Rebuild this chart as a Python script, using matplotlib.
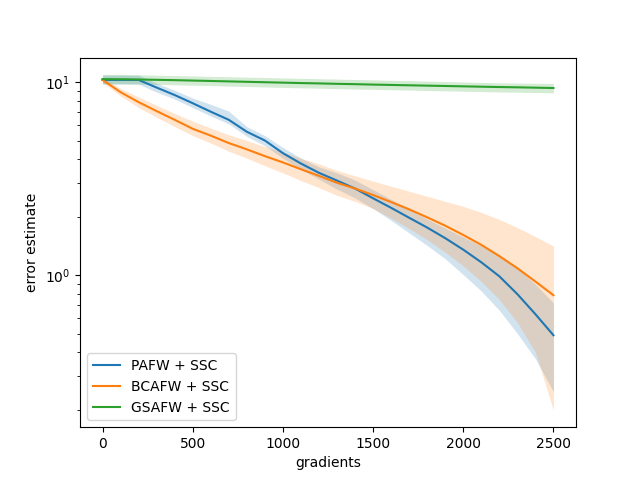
import matplotlib
matplotlib.use("Agg")
import matplotlib.pyplot as plt

gradients = [0, 100, 200, 300, 400, 500, 600, 700, 800, 900, 1000, 1100, 1200,
             1300, 1400, 1500, 1600, 1700, 1800, 1900, 2000, 2100, 2200, 2300, 2400, 2500]

# PAFW + SSC
pafw = [10.3, 10.3, 10.3, 9.4, 8.6, 7.8, 7.05, 6.4, 5.55, 5.0, 4.3, 3.8, 3.4,
        3.1, 2.82, 2.51, 2.24, 1.99, 1.77, 1.56, 1.36, 1.17, 0.99, 0.80, 0.63, 0.49]
pafw_hi = [10.9, 10.9, 10.9, 9.9, 9.1, 8.3, 7.7, 7.1, 5.9, 5.3, 4.6, 4.05, 3.65,
           3.4, 3.12, 2.78, 2.48, 2.2, 1.96, 1.76, 1.58, 1.42, 1.26, 1.09, 0.9, 0.72]
pafw_lo = [9.8, 9.8, 9.8, 8.9, 8.2, 7.4, 6.7, 6.1, 5.25, 4.7, 4.05, 3.55, 3.15,
           2.8, 2.52, 2.22, 1.93, 1.66, 1.43, 1.22, 1.01, 0.83, 0.66, 0.5, 0.37, 0.25]

# BCAFW + SSC
bcafw = [10.3, 8.9, 7.9, 7.1, 6.4, 5.75, 5.3, 4.85, 4.5, 4.15, 3.85, 3.55, 3.28,
         3.02, 2.82, 2.61, 2.40, 2.20, 2.00, 1.81, 1.62, 1.44, 1.26, 1.09, 0.93, 0.79]
bcafw_hi = [10.6, 9.3, 8.4, 7.6, 6.9, 6.3, 5.8, 5.35, 5.0, 4.65, 4.35, 4.05, 3.78,
            3.5, 3.28, 3.08, 2.9, 2.73, 2.57, 2.42, 2.28, 2.12, 1.95, 1.77, 1.59, 1.42]
bcafw_lo = [10.0, 8.5, 7.4, 6.6, 5.9, 5.3, 4.85, 4.4, 4.05, 3.7, 3.4, 3.1, 2.85,
            2.6, 2.42, 2.22, 1.98, 1.75, 1.53, 1.32, 1.12, 0.93, 0.75, 0.57, 0.4, 0.2]

# GSAFW + SSC
gsafw = [10.40, 10.38, 10.35, 10.31, 10.27, 10.22, 10.17, 10.12, 10.07, 10.02, 9.97, 9.92, 9.88,
         9.83, 9.79, 9.74, 9.70, 9.66, 9.62, 9.58, 9.54, 9.50, 9.46, 9.43, 9.39, 9.35]
gsafw_hi = [11.0, 11.0, 10.95, 10.9, 10.85, 10.8, 10.75, 10.7, 10.65, 10.6, 10.55, 10.5, 10.45,
            10.4, 10.35, 10.3, 10.25, 10.2, 10.15, 10.1, 10.05, 10.0, 9.95, 9.92, 9.9, 9.88]
gsafw_lo = [9.85, 9.83, 9.8, 9.76, 9.72, 9.67, 9.62, 9.57, 9.52, 9.47, 9.42, 9.37, 9.33,
            9.28, 9.24, 9.2, 9.16, 9.12, 9.08, 9.04, 9.0, 8.96, 8.92, 8.89, 8.86, 8.83]

series = [
    ("PAFW + SSC", pafw, pafw_lo, pafw_hi, "tab:blue"),
    ("BCAFW + SSC", bcafw, bcafw_lo, bcafw_hi, "tab:orange"),
    ("GSAFW + SSC", gsafw, gsafw_lo, gsafw_hi, "tab:green"),
]

fig, ax = plt.subplots(figsize=(6.4, 4.8), dpi=100)
for label, mean, lo, hi, color in series:
    ax.plot(gradients, mean, color=color, label=label)
    ax.fill_between(gradients, lo, hi, color=color, alpha=0.2, linewidth=0)

ax.set_yscale("log")
ax.set_xlabel("gradients")
ax.set_ylabel("error estimate")
ax.legend(loc="lower left")
fig.savefig("out.png")
